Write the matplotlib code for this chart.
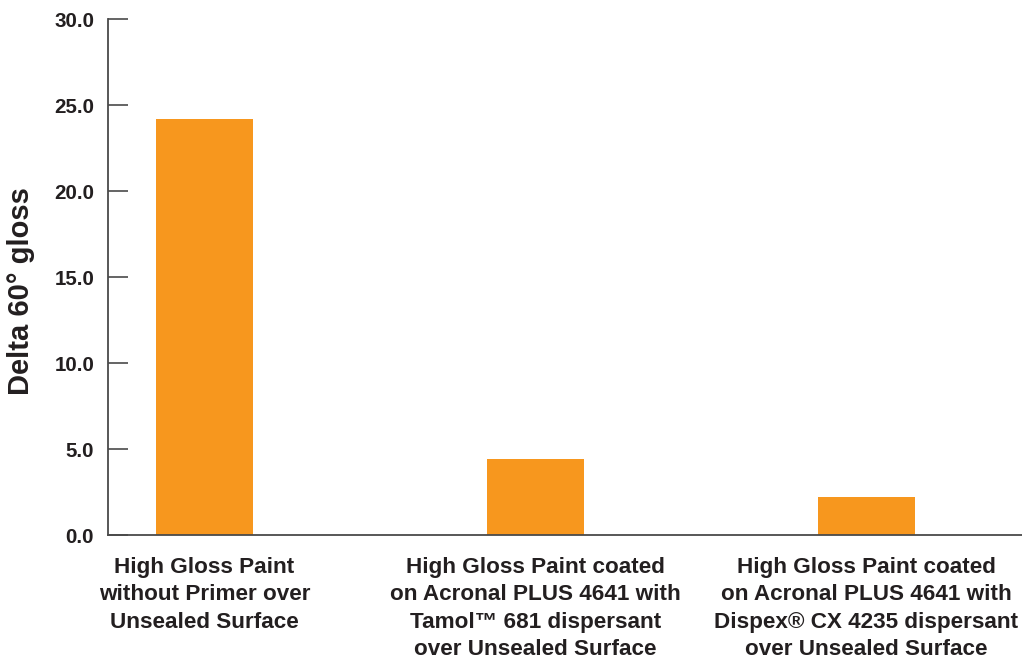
import numpy as np
import matplotlib.pyplot as plt

categories = [
    "High Gloss Paint\nwithout Primer over\nUnsealed Surface",
    "High Gloss Paint coated\non Acronal PLUS 4641 with\nTamol\u2122 681 dispersant\nover Unsealed Surface",
    "High Gloss Paint coated\non Acronal PLUS 4641 with\nDispex\u00ae CX 4235 dispersant\nover Unsealed Surface",
]
delta_gloss = [24.2, 4.4, 2.2]
yticks = [0, 5, 10, 15, 20, 25, 30]

orange = "#F7971E"
text_col = "#231F20"

plt.rcParams['font.family'] = ['Liberation Sans', 'DejaVu Sans']

fig = plt.figure(figsize=(10.22, 6.67), dpi=100)
ax = fig.add_axes([0.1057, 0.1979, 0.8943, 0.7736])

x = np.arange(len(categories))
ax.bar(x, delta_gloss, width=0.293, color=orange, zorder=2)

ax.set_xlim(-0.2915, 2.47)
ax.set_ylim(0, 30)

ax.set_yticks(yticks)
ax.set_yticklabels([f"{v:.1f}" for v in yticks], fontsize=14.8, fontweight='bold', color=text_col)
ax.tick_params(axis='y', direction='in', length=14.5, width=1.2, color='#4a4a4a', pad=10)

ax.set_xticks(x)
ax.set_xticklabels(categories, fontsize=16.2, fontweight='bold', color=text_col, linespacing=1.39)
ax.tick_params(axis='x', length=0, pad=16)

for s in ['top', 'right']:
    ax.spines[s].set_visible(False)
for s in ['left', 'bottom']:
    ax.spines[s].set_color('#4a4a4a')
    ax.spines[s].set_linewidth(1.3)

ax.set_ylabel("Delta 60\u00b0 gloss", fontsize=21, fontweight='bold', color=text_col)
ax.yaxis.set_label_coords(-0.08, 0.472)

fig.savefig("out.png", dpi=100)
